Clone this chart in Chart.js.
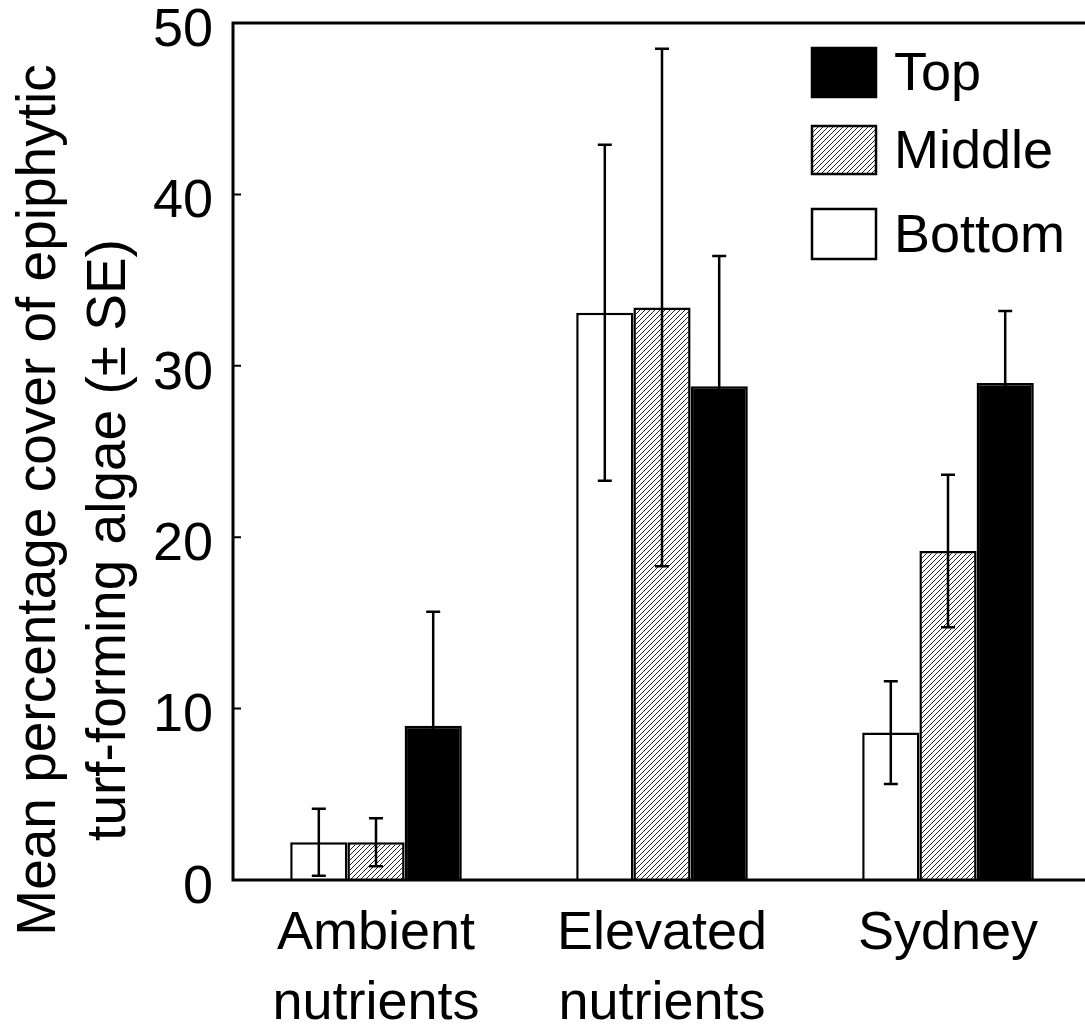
<!DOCTYPE html>
<html>
<head>
<meta charset="utf-8">
<script src="https://cdn.jsdelivr.net/npm/chart.js@4"></script>
<style>
  html, body { margin: 0; padding: 0; background: #fff; overflow: hidden; }
  canvas { display: block; }
</style>
</head>
<body>
<canvas id="myChart" width="1100" height="1032"></canvas>
<script>
// data
const categories = [['Ambient', 'nutrients'], ['Elevated', 'nutrients'], 'Sydney'];
const seriesNames = ['Bottom', 'Middle', 'Top'];
const bottomMean = [2.2, 33.1, 8.6];
const bottomSE = [1.95, 9.8, 3.0];
const middleMean = [2.2, 33.4, 19.2];
const middleSE = [1.4, 15.1, 4.45];
const topMean = [9.0, 28.8, 29.0];
const topSE = [6.65, 7.6, 4.2];
const yTicks = [0, 10, 20, 30, 40, 50];

const FONT = '"Liberation Sans", Arial, sans-serif';

// hatch pattern
function makeHatch() {
  const s = 5;
  const c = document.createElement('canvas');
  c.width = s; c.height = s;
  const g = c.getContext('2d');
  g.fillStyle = '#fff';
  g.fillRect(0, 0, s, s);
  g.strokeStyle = '#222';
  g.lineWidth = 1;
  g.beginPath();
  g.moveTo(-1, s + 1); g.lineTo(s + 1, -1);
  g.moveTo(-1, 1); g.lineTo(1, -1);
  g.moveTo(s - 1, s + 1); g.lineTo(s + 1, s - 1);
  g.stroke();
  return g.createPattern(c, 'repeat');
}
const hatch = makeHatch();

const data = {
  labels: categories,
  datasets: [{
    label: seriesNames[0],
    data: bottomMean,
    se: bottomSE,
    backgroundColor: '#fff',
    borderColor: '#000',
    borderWidth: 2.5
  }, {
    label: seriesNames[1],
    data: middleMean,
    se: middleSE,
    backgroundColor: hatch,
    borderColor: '#000',
    borderWidth: 2.5
  }, {
    label: seriesNames[2],
    data: topMean,
    se: topSE,
    backgroundColor: '#000',
    borderColor: '#000',
    borderWidth: 2.5
  }]
};

// error bars
const errorBars = {
  id: 'errorBars',
  afterDatasetsDraw(chart) {
    const ctx = chart.ctx;
    const y = chart.scales.y;
    ctx.save();
    ctx.strokeStyle = '#000';
    ctx.lineWidth = 2.5;
    chart.data.datasets.forEach((ds, i) => {
      const meta = chart.getDatasetMeta(i);
      meta.data.forEach((bar, j) => {
        const v = ds.data[j], e = ds.se[j];
        const yHi = y.getPixelForValue(v + e);
        const yLo = y.getPixelForValue(v - e);
        const x = bar.x;
        ctx.beginPath();
        ctx.moveTo(x, yHi); ctx.lineTo(x, yLo);
        ctx.moveTo(x - 7, yHi); ctx.lineTo(x + 7, yHi);
        ctx.moveTo(x - 7, yLo); ctx.lineTo(x + 7, yLo);
        ctx.stroke();
      });
    });
    ctx.restore();
  }
};

// frame, inward ticks, axis title, legend
const decorations = {
  id: 'decorations',
  afterDraw(chart) {
    const ctx = chart.ctx;
    const a = chart.chartArea;
    const y = chart.scales.y;
    ctx.save();
    ctx.strokeStyle = '#000';
    ctx.lineWidth = 3;
    ctx.strokeRect(a.left, a.top, a.right - a.left, a.bottom - a.top);
    ctx.lineWidth = 2;
    ctx.beginPath();
    yTicks.forEach(t => {
      const py = y.getPixelForValue(t);
      ctx.moveTo(a.left, py); ctx.lineTo(a.left + 8, py);
    });
    ctx.stroke();

    // y title
    ctx.fillStyle = '#000';
    ctx.font = '55px ' + FONT;
    ctx.textAlign = 'center';
    ctx.textBaseline = 'alphabetic';
    [['Mean percentage cover of epiphytic', 55, 500], ['turf-forming algae (± SE)', 125, 540]].forEach(l => {
      ctx.save();
      ctx.translate(l[1], l[2]);
      ctx.rotate(-Math.PI / 2);
      ctx.fillText(l[0], 0, 0);
      ctx.restore();
    });

    // legend (Top, Middle, Bottom)
    const order = [2, 1, 0];
    const rows = [[48, 49], [126, 48], [209, 50]];
    ctx.font = '54px ' + FONT;
    ctx.textAlign = 'left';
    ctx.textBaseline = 'middle';
    order.forEach((di, k) => {
      const ds = chart.data.datasets[di];
      const top = rows[k][0], h = rows[k][1];
      ctx.fillStyle = ds.backgroundColor;
      ctx.fillRect(812, top, 64, h);
      ctx.lineWidth = 2.5;
      ctx.strokeRect(812, top, 64, h);
      ctx.fillStyle = '#000';
      ctx.fillText(ds.label, 894, top + h / 2 + 3);
    });
    ctx.restore();
  }
};

const config = {
  type: 'bar',
  data: data,
  options: {
    responsive: false,
    animation: false,
    layout: {
      padding: { left: 0, top: 23, right: 9, bottom: 0 }
    },
    plugins: {
      legend: { display: false },
      tooltip: { enabled: false }
    },
    datasets: {
      bar: {
        categoryPercentage: 0.6,
        barPercentage: 1.0
      }
    },
    scales: {
      x: {
        grid: { display: false, drawTicks: false },
        border: { display: false },
        ticks: {
          color: '#000',
          padding: 19,
          font: { family: FONT, size: 54, lineHeight: 1.3 },
          maxRotation: 0,
          autoSkip: false
        },
        afterFit: s => { s.height = 152; }
      },
      y: {
        min: 0,
        max: 50,
        grid: { display: false, drawTicks: false },
        border: { display: false },
        ticks: {
          stepSize: 10,
          color: '#000',
          padding: 20,
          labelOffset: 8,
          font: { family: FONT, size: 54, lineHeight: 0.05 }
        },
        afterFit: s => { s.width = 233; }
      }
    }
  },
  plugins: [errorBars, decorations]
};

const ctx = document.getElementById('myChart').getContext('2d');
let myChart = new Chart(ctx, config);
</script>
</body>
</html>
